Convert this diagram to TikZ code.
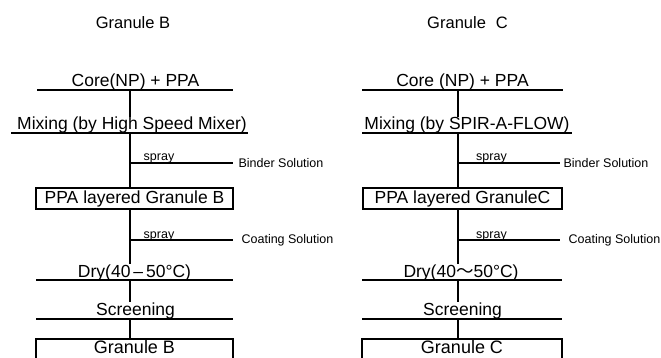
\documentclass[tikz,border=0pt]{standalone}
\usepackage{fontspec}
\setmainfont{Liberation Sans}
\newfontfamily\cjk{Noto Sans CJK JP}
\begin{document}
\begin{tikzpicture}[x=1pt,y=-1pt,line width=1.2pt,
    title/.style={font=\fontsize{16.5}{18}\selectfont},
    stage/.style={font=\fontsize{17.5}{19}\selectfont,anchor=base,inner sep=0pt},
    small/.style={font=\fontsize{12.5}{14}\selectfont,anchor=base,inner sep=0pt},
    feed/.style={font=\fontsize{12.5}{14}\selectfont,anchor=west,inner xsep=5pt},
    stagebox/.style={draw,font=\fontsize{17.5}{19}\selectfont,minimum width=197pt,
        minimum height=21pt,inner ysep=0pt},
    endbox/.style={draw,minimum width=197pt,minimum height=27pt},
    endtext/.style={font=\fontsize{18}{20}\selectfont,anchor=base,inner sep=0pt}]
    \useasboundingbox (0,0) rectangle (661,358);
    % Granule B
    \begin{scope}
        \clip (0,0) rectangle (341,358);
        \node[title] (titB) at (133,23) {Granule B};
        \node[stage] (coreB) at (135.5,87) {Core(NP) + PPA};
        \draw (37,90) -- (233,90);
        \node[stage] (mixB) at (132,130) {Mixing (by High Speed Mixer)};
        \draw (11,133) -- (248,133);
        \node[small] (spB1) at (159,161) {spray};
        \node[feed] (bindB) at (233,163) {Binder Solution};
        \node[stagebox] (layB) at (134.5,198.5) {PPA layered Granule B};
        \node[small] (spB2) at (159,238) {spray};
        \node[feed,inner xsep=8pt] (coatB) at (233,240) {Coating Solution};
        \node[stage] (dryB) at (134.5,277) {Dry(40\,–\,50°C)};
        \draw (36,280) -- (233,280);
        \node[stage] (scrB) at (135.5,315) {Screening};
        \draw (36,319) -- (233,319);
        \node[endbox] (finB) at (134.5,352.5) {};
        \node[endtext] (finBt) at (134.5,353.5) {Granule B};
        \coordinate (B0) at (130,90);
        \coordinate (B1) at (130,133);
        \coordinate (B2) at (130,280);
        \coordinate (B3) at (130,319);
        \draw (B0) -- (mixB.north -| B0);
        \draw (B1) -- (layB.north -| B1);
        \draw (layB.south -| B1) -- (dryB.north -| B1);
        \draw (B2) -- (scrB.north -| B2);
        \draw (B3) -- (finB.north -| B3);
        \draw (B1 |- bindB.west) -- (bindB.west);
        \draw (B1 |- coatB.west) -- (coatB.west);
    \end{scope}
    % Granule C
    \node[title] (titC) at (467.5,23) {Granule\hspace{0.6em}C};
    \node[stage] (coreC) at (462.5,87) {Core (NP) + PPA};
    \draw (362,90) -- (563,90);
    \node[stage] (mixC) at (467,130) {Mixing (by SPIR-A-FLOW)};
    \draw (362,133) -- (572,133);
    \node[small] (spC1) at (491.5,161) {spray};
    \node[feed,inner xsep=3pt] (bindC) at (560,163) {Binder Solution};
    \node[stagebox,minimum width=199pt] (layC) at (462.5,198.5) {PPA layered GranuleC};
    \node[small] (spC2) at (491.5,238) {spray};
    \node[feed,inner xsep=8pt] (coatC) at (560,240) {Coating Solution};
    \node[stage] (dryC) at (461,277) {Dry(40{\cjk ～}50°C)};
    \draw (362,280) -- (562,280);
    \node[stage] (scrC) at (462.5,315) {Screening};
    \draw (362,319) -- (562,319);
    \node[endbox,minimum width=200pt] (finC) at (462,352.5) {};
    \node[endtext] (finCt) at (462,353.5) {Granule C};
    \coordinate (C0) at (458,90);
    \coordinate (C1) at (458,133);
    \coordinate (C2) at (458,280);
    \coordinate (C3) at (458,319);
    \draw (C0) -- (mixC.north -| C0);
    \draw (C1) -- (layC.north -| C1);
    \draw (layC.south -| C1) -- (dryC.north -| C1);
    \draw (C2) -- (scrC.north -| C2);
    \draw (C3) -- (finC.north -| C3);
    \draw (C1 |- bindC.west) -- (bindC.west);
    \draw (C1 |- coatC.west) -- (coatC.west);
\end{tikzpicture}
\end{document}
